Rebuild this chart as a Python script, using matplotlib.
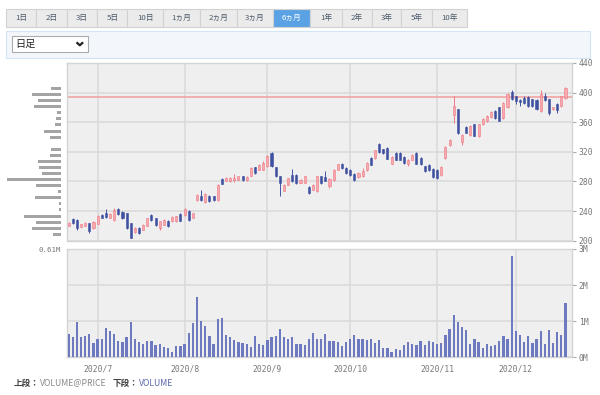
import matplotlib.pyplot as plt
import numpy as np
from matplotlib.patches import Rectangle

plt.rcParams["font.family"] = ["Noto Sans CJK JP", "DejaVu Sans"]

W, H = 600, 395

# ---- data -------------------------------------------------------------
periods = ["1日", "2日", "3日", "5日", "10日", "1ヵ月", "2ヵ月", "3ヵ月",
           "6ヵ月", "1年", "2年", "3年", "5年", "10年"]
selected = "6ヵ月"

month_labels = ["2020/7", "2020/8", "2020/9", "2020/10", "2020/11", "2020/12"]
month_starts = [7, 28, 48, 68, 89, 108]   # bar index of first trading day

opens = [220.5, 229, 228, 219, 220, 223.5, 217,
         222.7, 235, 237, 230.5, 228, 243, 239.4, 237, 223.6, 212, 217, 214.5, 220.4,
         235, 230.4, 217, 221.3, 226.7, 226, 226, 235.8,
         235, 240.3, 230.4, 255.2, 259.7, 251.6, 261, 259.7, 254.3, 283, 281, 280,
         282, 282.3, 287.5, 281.7, 288, 299, 296, 296,
         301, 319, 299, 287, 267.6, 275.6, 289, 288.5, 278, 278, 273, 268.8, 266.5,
         286.8, 286, 273.3, 282, 295.5, 303, 298.5,
         296, 290.5, 286, 286.8, 295, 312, 312, 330, 323.5, 325, 304, 318.6, 319,
         313, 303, 309, 318, 312, 300.4, 302.7, 297,
         296, 289, 311.3, 329.4, 370.4, 377.3, 333, 354, 343, 357, 341, 357, 361.4,
         367, 375, 380, 366, 380.4, 401.3,
         395.4, 390, 393.2, 394, 390.9, 389.7, 375, 395.4, 390.9, 378, 384, 381.8, 393]
highs = [225, 230, 229, 223, 225, 224, 226,
         235, 236, 242.6, 237, 244, 244, 240, 238, 224, 218, 218, 222, 231,
         236, 231, 227, 229, 227.5, 233, 234, 237,
         244, 241, 238, 263, 268.8, 265, 262, 260, 276, 285, 286, 286,
         290, 287.5, 288, 287, 299, 300, 303, 308,
         316, 320, 300, 288, 277, 285, 297, 290, 283, 288, 274, 276, 288,
         288, 293.6, 285, 297, 304, 305, 299,
         297, 291, 293, 298, 306, 313, 323, 331.5, 324, 326, 314, 319.5, 320,
         314, 310, 317, 320, 313, 301, 304, 298,
         297, 300.5, 328, 338, 395.4, 378, 344, 355, 356, 358, 358, 366, 370,
         375.5, 376, 381, 388, 399, 403,
         396, 391, 396, 395, 392, 391, 404, 400, 392, 381, 386, 396, 408]
lows = [220, 223, 215, 218, 219.5, 211, 216,
        222, 230, 231, 230, 227, 235, 229, 216, 203, 211, 209, 214, 220,
        227, 220, 215, 221, 219, 225, 225, 226,
        234, 227, 230, 254, 253, 250.7, 252, 253.5, 254, 276, 280, 279,
        279, 282, 281, 281, 287.5, 290.5, 295.5, 295,
        300, 300, 286, 259.7, 267, 275, 279, 277, 277.5, 277.5, 263, 268, 266,
        277, 280, 271, 281, 295, 297, 290,
        288, 281, 285, 286, 294, 302, 311, 319, 317, 310, 303.5, 309, 309,
        304, 301, 308.5, 303, 302, 292.5, 294, 285,
        283.5, 288, 310, 328, 359, 344, 329, 345, 342, 341, 340, 356, 360.5,
        366, 364, 361, 365, 379, 390,
        385, 382, 385, 381, 380, 376, 374, 389, 370, 376, 372, 380, 392]
closes = [224.4, 223.6, 217, 222, 224.5, 213, 225,
          234, 230.5, 232, 236, 241, 236, 230.4, 217, 204.1, 217, 211, 221, 230.4,
          228, 221.3, 226, 228, 220, 232.6, 233.5, 226.7,
          242.6, 228, 237.2, 262, 255.2, 263.4, 253, 254.3, 275.6, 277, 284.6, 285,
          285, 286.9, 281.7, 286, 298, 291.4, 302.7, 305,
          315, 301, 287, 278, 275.6, 284.6, 280, 277.9, 282.3, 287, 264.3, 275.6, 287,
          277.9, 281, 284, 295.9, 303, 298, 291,
          289.1, 282.3, 292, 294, 305.5, 302.7, 322.5, 320, 318, 311, 313, 309.5, 309.5,
          305, 309.5, 316, 304, 303, 293.6, 295, 286.5,
          284.6, 300, 327.1, 336.3, 381.8, 345, 343, 346, 354.5, 342, 357, 364.5, 369,
          374, 366, 362, 386.4, 398.6, 391,
          388.6, 387, 386.4, 381.8, 381.8, 377.3, 397.7, 390, 372.7, 380, 377, 395.4, 406.8]

volumes = [0.65, 0.57, 0.97, 0.57, 0.59, 0.65, 0.39,
           0.52, 0.50, 0.80, 0.72, 0.65, 0.46, 0.41, 0.55, 0.97, 0.50, 0.41, 0.36, 0.44,
           0.46, 0.34, 0.36, 0.28, 0.27, 0.16, 0.31, 0.30,
           0.38, 0.67, 0.95, 1.68, 1.00, 0.87, 0.59, 0.38, 1.06, 1.08, 0.61, 0.56,
           0.48, 0.41, 0.39, 0.38, 0.28, 0.59, 0.38, 0.34,
           0.48, 0.55, 0.60, 0.78, 0.55, 0.50, 0.56, 0.36, 0.36, 0.34, 0.52, 0.66,
           0.50, 0.50, 0.65, 0.46, 0.44, 0.41, 0.31, 0.41,
           0.50, 0.61, 0.50, 0.52, 0.48, 0.50, 0.40, 0.49, 0.25, 0.25, 0.16, 0.24,
           0.19, 0.34, 0.43, 0.36, 0.35, 0.46, 0.34, 0.44, 0.41,
           0.38, 0.40, 0.61, 0.78, 1.18, 0.98, 0.83, 0.75, 0.38, 0.52, 0.43, 0.25,
           0.38, 0.31, 0.33, 0.46, 0.58, 0.50, 2.80,
           0.72, 0.61, 0.43, 0.60, 0.40, 0.50, 0.73, 0.36, 0.75, 0.40, 0.71, 0.63, 1.50]

# volume at price, bins from low price to high price
vap_start, vap_step = 208.7, 8.2
vap_volumes = [0.093, 0.322, 0.281, 0.412, 0.030, 0.030, 0.292, 0.042, 0.281, 0.61,
               0.217, 0.247, 0.262, 0.131, 0.112, 0.0, 0.124, 0.191, 0.067, 0.060,
               0.048, 0.300, 0.262, 0.329, 0.112]
vap_max_label = "0.61M"
marker_price = 394.5

price_ticks = [200, 240, 280, 320, 360, 400, 440]
vol_ticks = [0, 1, 2, 3]


def rect(x0, y0, x1, y1):
    # pixel box (top-left origin) -> figure fraction
    return [x0 / W, 1 - y1 / H, (x1 - x0) / W, (y1 - y0) / H]


fig = plt.figure(figsize=(6, 3.95), dpi=100)

# ---- page chrome ------------------------------------------------------
bg = fig.add_axes([0, 0, 1, 1], zorder=0)
bg.set_xlim(0, W)
bg.set_ylim(H, 0)
bg.axis("off")

edges = [6, 36, 66.7, 97.3, 127.3, 163.3, 200, 236.7, 273.3, 310, 341.7,
         371.7, 401, 431.7, 466.7]
for lab, a, b in zip(periods, edges[:-1], edges[1:]):
    sel = lab == selected
    bg.add_patch(Rectangle((a, 8.5), b - a, 18.5,
                           facecolor="#5aa2e4" if sel else "#ebebeb",
                           edgecolor="#d2d2d2", lw=0.8))
    bg.text((a + b) / 2, 17.7, lab, ha="center", va="center", fontsize=5.6,
            color="white" if sel else "#4b5a6a")

bg.add_patch(Rectangle((6, 30.5), 584, 27, facecolor="#f3f7fb",
                       edgecolor="#d3e4f4", lw=0.8))
bg.add_patch(Rectangle((11.7, 36), 76.6, 15.7, facecolor="white",
                       edgecolor="#ababab", lw=0.8))
bg.text(15, 43.8, "日足", ha="left", va="center", fontsize=7.3, color="#222222")
bg.plot([76.5, 79.8, 83.1], [42.3, 45.3, 42.3], color="#222222", lw=1.6,
        solid_capstyle="butt")

bg.text(61, 250.5, vap_max_label, ha="right", va="center", fontsize=5.3,
        family="DejaVu Sans Mono", color="#777777")

bg.text(14, 383, "上段：", ha="left", va="center", fontsize=6.2,
        color="#444444", fontweight="bold")
bg.text(40, 383, "VOLUME@PRICE", ha="left", va="center", fontsize=6.2,
        color="#888888")
bg.text(113, 383, "下段：", ha="left", va="center", fontsize=6.2,
        color="#444444", fontweight="bold")
bg.text(139, 383, "VOLUME", ha="left", va="center", fontsize=6.2,
        color="#5b66ad")

# ---- price panel ------------------------------------------------------
o, h, l, c = (np.array(v) for v in (opens, highs, lows, closes))
idx = np.arange(len(o))
up = c >= o

ax = fig.add_axes(rect(67, 63, 571.7, 240.7), zorder=1)
ax.set_facecolor("#efefef")
ax.set_xlim(-0.4, 121.5)
ax.set_ylim(200, 440)
ax.set_yticks(price_ticks)
ax.set_xticks(month_starts)
ax.grid(color="#d9d9d9", lw=1.1)
ax.set_axisbelow(True)
ax.yaxis.tick_right()
ax.tick_params(axis="y", length=3, color="#aaaaaa", labelsize=5.8,
               labelcolor="#777777", pad=2)
for t in ax.get_yticklabels():
    t.set_family("DejaVu Sans Mono")
ax.tick_params(axis="x", length=0, labelbottom=False)

ax.axhline(marker_price, color="#f2a3a3", lw=1.2, zorder=2)

ax.vlines(idx[up], l[up], h[up], color="#f07a85", lw=0.7, zorder=3)
ax.vlines(idx[~up], l[~up], h[~up], color="#4455a3", lw=0.7, zorder=3)
ax.bar(idx[up], c[up] - o[up], bottom=o[up], width=0.5, color="#f9aab1",
       edgecolor="#ef7480", lw=0.4, zorder=4)
ax.bar(idx[~up], o[~up] - c[~up], bottom=c[~up], width=0.5, color="#3f50a0",
       edgecolor="#3f50a0", lw=0.4, zorder=4)

# ---- volume at price (left) -------------------------------------------
pax = fig.add_axes(rect(6.7, 63, 61.3, 240.7), zorder=1)
pax.set_xlim(max(vap_volumes), 0)
pax.set_ylim(200, 440)
pax.axis("off")
vap_centers = vap_start + vap_step * np.arange(len(vap_volumes))
pax.barh(vap_centers, vap_volumes, height=vap_step * 0.5, color="#a4a4a4")

# ---- volume panel -----------------------------------------------------
vax = fig.add_axes(rect(67, 249, 571.7, 357.3), zorder=1)
vax.set_facecolor("#efefef")
vax.set_xlim(-0.4, 121.5)
vax.set_ylim(0, 3)
vax.set_yticks(vol_ticks)
vax.set_yticklabels([f"{v}M" for v in vol_ticks])
vax.set_xticks(month_starts)
vax.set_xticklabels(month_labels)
vax.grid(color="#d9d9d9", lw=1.1)
vax.set_axisbelow(True)
vax.yaxis.tick_right()
vax.tick_params(axis="y", length=3, color="#aaaaaa", labelsize=5.8,
                labelcolor="#777777", pad=2)
vax.tick_params(axis="x", length=0, labelsize=5.8, labelcolor="#777777", pad=5)
for t in vax.get_yticklabels() + vax.get_xticklabels():
    t.set_family("DejaVu Sans Mono")
vax.bar(idx, volumes, width=0.55, color="#6e7abf", zorder=3)

for a in (ax, vax):
    for s in a.spines.values():
        s.set_color("#d4d4d4")
        s.set_linewidth(1.0)

fig.savefig("out.png", dpi=100)
